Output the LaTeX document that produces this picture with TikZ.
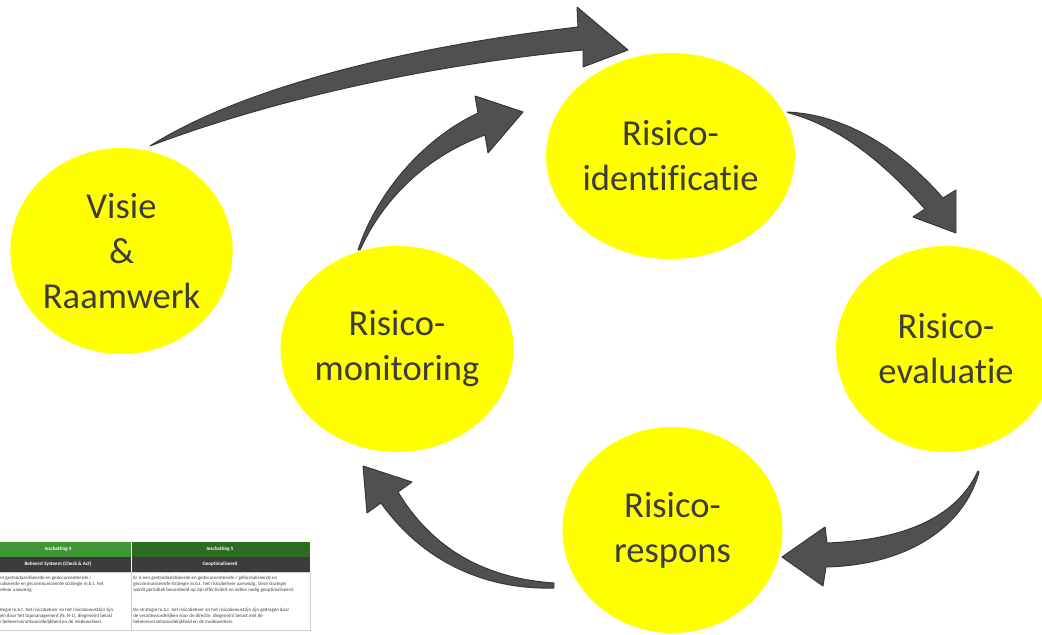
\documentclass[tikz,border=0pt]{standalone}
\usepackage{fontspec}
\setmainfont{Carlito}[Ligatures=NoCommon]
\usetikzlibrary{shapes.geometric}

\definecolor{geeld}{RGB}{255,255,0}
\definecolor{pijlgrijs}{RGB}{80,80,80}
\definecolor{randgrijs}{RGB}{55,55,55}
\definecolor{tekstgrijs}{RGB}{60,60,60}
\definecolor{groenl}{RGB}{62,150,52}
\definecolor{groend}{RGB}{44,108,33}
\definecolor{kopgrijs}{RGB}{60,60,60}

\tikzset{
  stap/.style={ellipse, fill=geeld, minimum width=5.5cm, minimum height=5.15cm,
    inner sep=0pt, align=center, text=tekstgrijs, font=\fontsize{26}{32}\selectfont},
  pijl/.style={fill=pijlgrijs, draw=randgrijs, line width=0.7pt, line join=round},
  kop/.style={inner sep=0pt, text=white, font=\fontsize{3.6}{4.3}\selectfont\bfseries},
  cel/.style={anchor=north west, inner sep=0pt, align=left, text=tekstgrijs,
    font=\fontsize{3.5}{4.27}\selectfont}
}

\begin{document}
\begin{tikzpicture}[x=0.025cm, y=-0.025cm]
                    \useasboundingbox (0,0) rectangle (1042,635);
                    \clip (0,0) rectangle (1042,635);
                    % de vijf stappen
                    \node[stap] (visie) at (121.5,251) {Visie\\\&\\Raamwerk};
                    \node[stap] (identificatie) at (670.5,156) {Risico-\\identificatie};
                    \node[stap] (evaluatie) at (946,349) {Risico-\\evaluatie};
                    \node[stap] (respons) at (672.5,530) {Risico-\\respons};
                    \node[stap] (monitoring) at (397,349) {Risico-\\monitoring};
                    % pijlen
                    \draw[pijl] (150,146) .. controls (230,95) and (380,50) .. (578,27) -- (577,7) -- (628,50)
                        -- (583,67) -- (583,50) .. controls (400,68) and (250,108) .. (150,146) -- cycle;
                    \draw[pijl] (358,250) .. controls (378,190) and (425,138) .. (478,113) -- (475,96) -- (523,112)
                        -- (488,153) -- (485,135) .. controls (430,155) and (385,195) .. (360,250) -- cycle;
                    \draw[pijl] (787,112) .. controls (855,115) and (910,160) .. (943,198) -- (956,190) -- (956,233)
                        -- (913,217) -- (925,209) .. controls (890,170) and (845,128) .. (789,113) -- cycle;
                    \draw[pijl] (978,471) .. controls (955,520) and (900,540) .. (827,543) -- (825,527) -- (782,557)
                        -- (823,586) -- (826,567) .. controls (910,565) and (965,525) .. (979,472) -- cycle;
                    \draw[pijl] (554,583) .. controls (480,578) and (430,545) .. (398,492) -- (412,482) -- (363,466)
                        -- (367,513) -- (381,503) .. controls (425,565) and (490,590) .. (554,588) -- cycle;
                    % tabel linksonder
                    \fill[groenl] (-15,542) rectangle (131,557);
                    \fill[groend] (131,542) rectangle (310,557);
                    \fill[kopgrijs] (-15,557) rectangle (310,572);
                    \draw[white, line width=0.4pt] (131,542) -- (131,572);
                    \draw[gray!40, line width=0.3pt] (-15,572) rectangle (131,630) (131,572) rectangle (310,630);
                    \node[kop] (kop4) at (58,549.5) {Inschatting 4};
                    \node[kop] (kop5) at (220,549.5) {Inschatting 5};
                    \node[kop] (sub4) at (58,564.5) {Beheerst Systeem (Check \& Act)};
                    \node[kop] (sub5) at (220,564.5) {Geoptimaliseerd};
                    \node[cel] (cel4a) at (-13,576) {Er is een gestandaardiseerde en gedocumenteerde /\\geformaliseerde en gecommuniceerde strategie m.b.t. het\\risicobeheer aanwezig.};
                    \node[cel] (cel4b) at (-13,608) {De strategie m.b.t. het risicobeheer en het risicobewustzijn zijn\\gedragen door het topmanagement (N, N-1), diegene(n) belast\\met de beheersverantwoordelijkheid en de medewerkers.};
                    \node[cel] (cel5a) at (133,576) {Er is een gestandaardiseerde en gedocumenteerde / geformaliseerde en\\gecommuniceerde strategie m.b.t. het risicobeheer aanwezig. Deze strategie\\wordt periodiek beoordeeld op zijn effectiviteit en indien nodig geoptimaliseerd.};
                    \node[cel] (cel5b) at (133,608) {De strategie m.b.t. het risicobeheer en het risicobewustzijn zijn gedragen door\\de verantwoordelijken voor de directie, diegene(n) belast met de\\beheersverantwoordelijkheid en de medewerkers.};
\end{tikzpicture}
\end{document}
